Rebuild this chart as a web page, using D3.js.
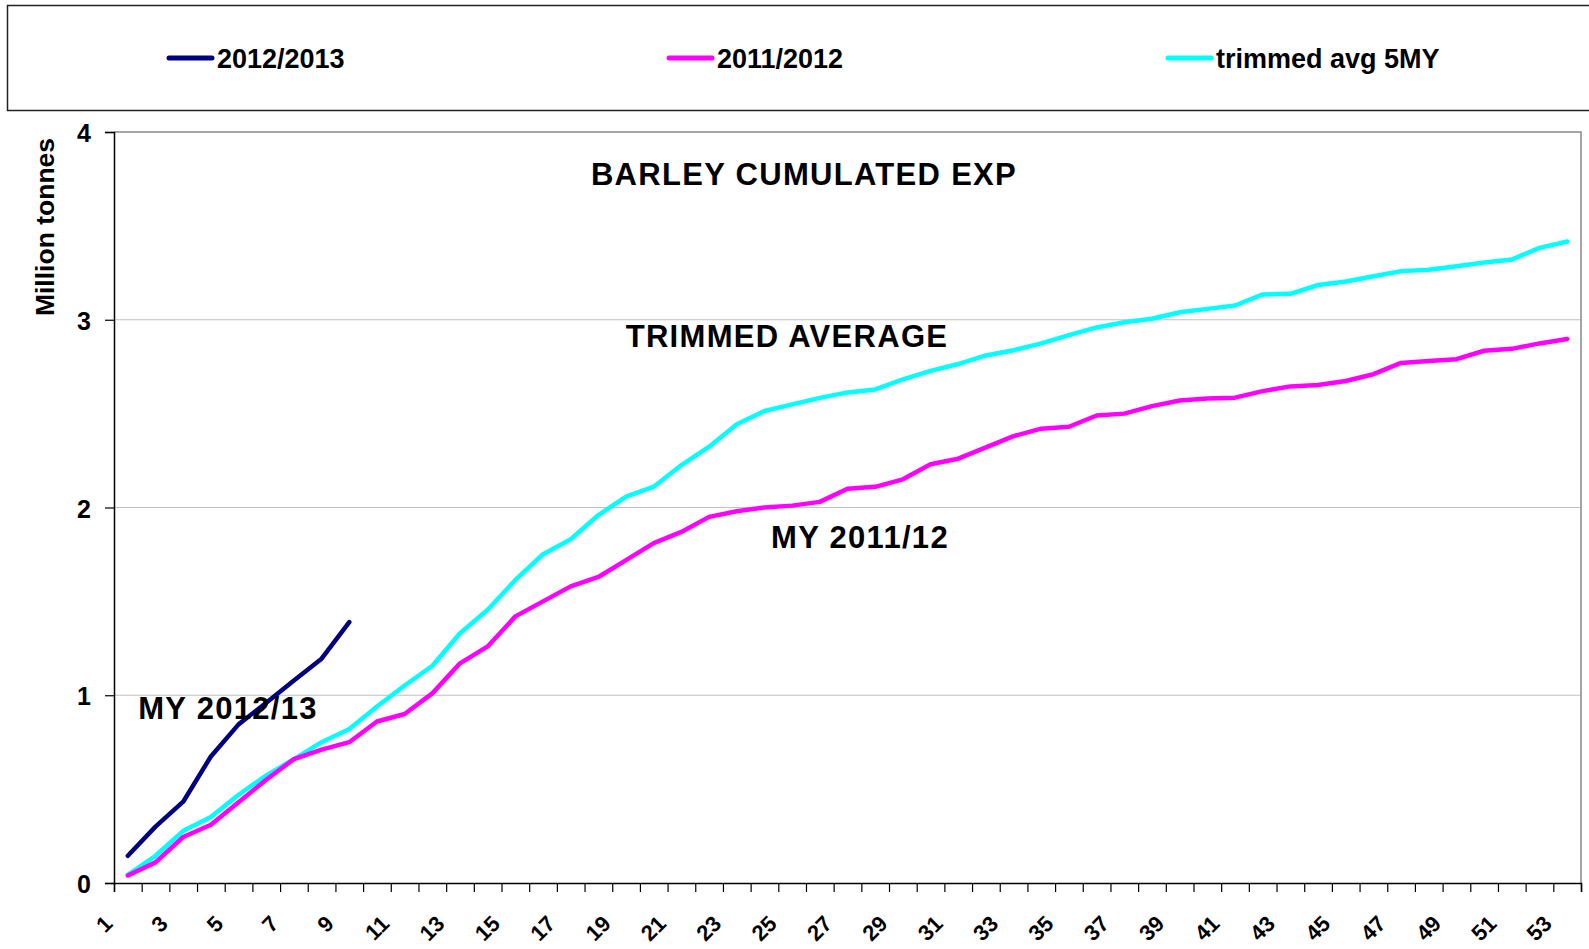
<!DOCTYPE html>
<html>
<head>
<meta charset="utf-8">
<script src="https://cdn.jsdelivr.net/npm/d3@7/dist/d3.min.js"></script>
<style>
  body { margin: 0; background: #fff; }
  svg { display: block; font-family: "Liberation Sans", Arial, sans-serif; }
</style>
</head>
<body>
<div id="chart"></div>
<script>
// weeks of the marketing year
const weeks = d3.range(1, 54);

// cumulated barley exports, million tonnes
const my2012 = [0.145, 0.30, 0.433, 0.674, 0.845, 0.96, 1.078, 1.195, 1.39];
const my2011 = [0.04, 0.11, 0.245, 0.31, 0.43, 0.55, 0.66, 0.71, 0.75, 0.86,
  0.90, 1.01, 1.17, 1.26, 1.42, 1.50, 1.58, 1.63, 1.72, 1.81,
  1.87, 1.95, 1.98, 2.00, 2.01, 2.03, 2.10, 2.11, 2.15, 2.23,
  2.26, 2.32, 2.38, 2.42, 2.43, 2.49, 2.50, 2.54, 2.57, 2.58,
  2.585, 2.62, 2.645, 2.653, 2.674, 2.71, 2.77, 2.78, 2.79, 2.835,
  2.845, 2.874, 2.897];
const trimmedAvg = [0.044, 0.145, 0.278, 0.351, 0.47, 0.573, 0.66, 0.75, 0.82, 0.94,
  1.052, 1.157, 1.33, 1.455, 1.614, 1.751, 1.831, 1.96, 2.058, 2.111,
  2.226, 2.324, 2.443, 2.514, 2.549, 2.584, 2.613, 2.629, 2.682, 2.728,
  2.764, 2.81, 2.838, 2.874, 2.918, 2.959, 2.987, 3.005, 3.04, 3.058,
  3.076, 3.135, 3.138, 3.185, 3.204, 3.232, 3.259, 3.266, 3.285, 3.305,
  3.321, 3.383, 3.417];
const yTicks = [0, 1, 2, 3, 4];

const series = [
  { name: "2012/2013", values: my2012, color: "#000080", lx: 169 },
  { name: "2011/2012", values: my2011, color: "#ff00ff", lx: 669 },
  { name: "trimmed avg 5MY", values: trimmedAvg, color: "#00ffff", lx: 1168 }
];

const width = 1589;
const height = 949;
const plotLeft = 114, plotRight = 1581, plotTop = 132, plotBottom = 883;

const svg = d3.select("#chart")
  .append("svg")
  .attr("width", width)
  .attr("height", height);

const x = d3.scaleBand().domain(weeks).range([plotLeft, plotRight]).padding(0);
const xEdge = d3.scaleLinear().domain([0, weeks.length]).range([plotLeft, plotRight]);
const y = d3.scaleLinear().domain([0, 4]).range([plotBottom, plotTop]);

// legend box
svg.append("rect")
  .attr("x", 7.5).attr("y", 5.5)
  .attr("width", 1600).attr("height", 105)
  .attr("fill", "none")
  .attr("stroke", "#222")
  .attr("stroke-width", 1.5);

const legend = svg.selectAll(".legend")
  .data(series)
  .enter().append("g")
  .attr("class", "legend");

legend.append("line")
  .attr("x1", d => d.lx).attr("x2", d => d.lx + 43)
  .attr("y1", 58).attr("y2", 58)
  .attr("stroke", d => d.color)
  .attr("stroke-width", 5)
  .attr("stroke-linecap", "round");

legend.append("text")
  .attr("x", d => d.lx + 48)
  .attr("y", 68)
  .attr("font-size", 27)
  .attr("font-weight", "bold")
  .text(d => d.name);

// gridlines
svg.append("g")
  .selectAll("line")
  .data(yTicks.filter(t => t > 0 && t < 4))
  .enter().append("line")
  .attr("x1", plotLeft).attr("x2", plotRight)
  .attr("y1", d => y(d)).attr("y2", d => y(d))
  .attr("stroke", "#c0c0c0")
  .attr("stroke-width", 1.2);

// plot border (top and right)
svg.append("path")
  .attr("d", `M${plotLeft},${plotTop}H${plotRight}V${plotBottom}`)
  .attr("fill", "none")
  .attr("stroke", "#888")
  .attr("stroke-width", 1.5);

// y axis
const yAxis = svg.append("g")
  .attr("transform", `translate(${plotLeft},0)`)
  .call(d3.axisLeft(y).tickValues(yTicks).tickSize(9).tickPadding(14).tickFormat(d3.format("d")));
yAxis.select(".domain").attr("stroke", "#000").attr("stroke-width", 1.5);
yAxis.selectAll(".tick line").attr("stroke", "#000").attr("stroke-width", 1.2);
yAxis.selectAll(".tick text")
  .attr("font-size", 25)
  .attr("font-weight", "bold")
  .attr("font-family", "Liberation Sans, Arial, sans-serif")
  .attr("fill", "#000")
  .attr("dy", "0.38em");

// x axis: ticks at week boundaries
const xAxis = svg.append("g")
  .attr("transform", `translate(0,${plotBottom})`)
  .call(d3.axisBottom(xEdge).tickValues(d3.range(weeks.length + 1)).tickSize(9).tickFormat(""));
xAxis.select(".domain").attr("stroke", "#000").attr("stroke-width", 1.5);
xAxis.selectAll(".tick line").attr("stroke", "#000").attr("stroke-width", 1.2);

svg.append("g")
  .selectAll("text")
  .data(weeks.filter(w => w % 2 === 1))
  .enter().append("text")
  .attr("transform", d => `translate(${x(d) + x.bandwidth() / 2 - 14},${plotBottom + 42}) rotate(-45)`)
  .attr("text-anchor", "end")
  .attr("font-size", 22)
  .attr("font-weight", "bold")
  .text(d => d);

// y axis title
svg.append("text")
  .attr("transform", "translate(54,227) rotate(-90)")
  .attr("text-anchor", "middle")
  .attr("font-size", 26.5)
  .attr("font-weight", "bold")
  .text("Million tonnes");

// lines
const line = d3.line()
  .x((d, i) => x(weeks[i]) + x.bandwidth() / 2)
  .y(d => y(d));

svg.append("g")
  .selectAll("path")
  .data(series.slice().reverse())
  .enter().append("path")
  .attr("d", d => line(d.values))
  .attr("fill", "none")
  .attr("stroke", d => d.color)
  .attr("stroke-width", 4.5)
  .attr("stroke-linejoin", "round")
  .attr("stroke-linecap", "round");

// annotations
const notes = [
  { text: "BARLEY CUMULATED EXP", x: 804, y: 185 },
  { text: "TRIMMED AVERAGE", x: 787, y: 347 },
  { text: "MY 2011/12", x: 860, y: 548 },
  { text: "MY 2012/13", x: 228, y: 719 }
];
svg.append("g")
  .selectAll("text")
  .data(notes)
  .enter().append("text")
  .attr("x", d => d.x)
  .attr("y", d => d.y)
  .attr("text-anchor", "middle")
  .attr("font-size", 31)
  .attr("font-weight", "bold")
  .attr("letter-spacing", 1.3)
  .text(d => d.text);
</script>
</body>
</html>
